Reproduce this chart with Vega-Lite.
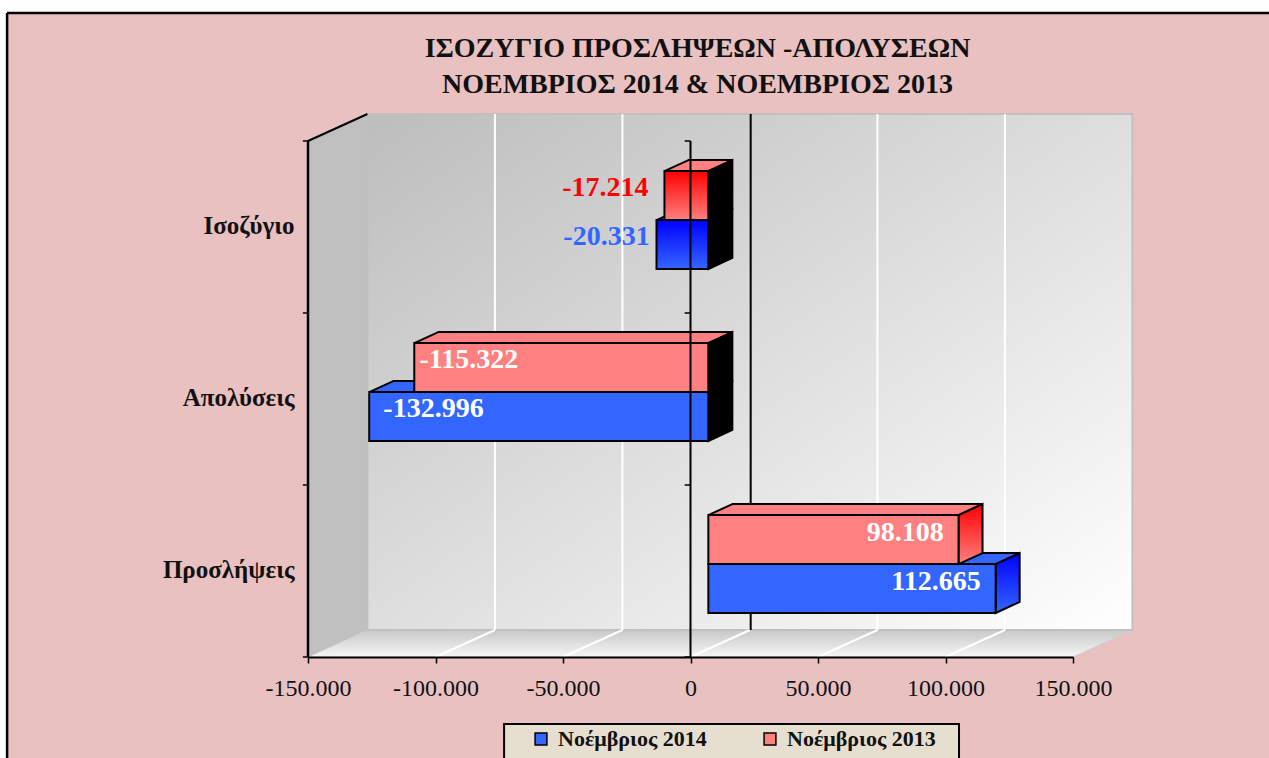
{
"$schema":"https://vega.github.io/schema/vega-lite/v6.json",
"width":765,"height":516,
"autosize":{"type":"none"},
"padding":{"left":308,"top":141,"right":196,"bottom":101},
"background":"#e9c1c1",
"config":{"view":{"stroke":null},"font":"Liberation Serif"},
"title":{"text":["ΙΣΟΖΥΓΙΟ ΠΡΟΣΛΗΨΕΩΝ -ΑΠΟΛΥΣΕΩΝ","ΝΟΕΜΒΡΙΟΣ 2014  &  ΝΟΕΜΒΡΙΟΣ 2013"],"font":"Liberation Serif","fontSize":28,"fontWeight":"bold","color":"#111111","anchor":"middle","dx":7,"offset":-99,"lineHeight":36},
"datasets":{
"one":[{"k":1}],
"sidewall":[{"x":-150000,"y":0,"y2":3},{"x":-126700,"y":0.157,"y2":3.157}],
"floor":[{"y":0,"x":-150000,"x2":150000},{"y":0.157,"x":-126700,"x2":173300}],
"grid":[{"v":-100000},{"v":-50000},{"v":0},{"v":50000},{"v":100000}],
"levels":[{"t":0},{"t":1},{"t":2},{"t":3}]
},
"data":{"values":[
{"category":"Προσλήψεις","series":"Νοέμβριος 2014","value":112665},
{"category":"Προσλήψεις","series":"Νοέμβριος 2013","value":98108},
{"category":"Απολύσεις","series":"Νοέμβριος 2014","value":-132996},
{"category":"Απολύσεις","series":"Νοέμβριος 2013","value":-115322},
{"category":"Ισοζύγιο","series":"Νοέμβριος 2014","value":-20331},
{"category":"Ισοζύγιο","series":"Νοέμβριος 2013","value":-17214}
]},
"transform":[
{"calculate":"datum.category==='Προσλήψεις'?0:datum.category==='Απολύσεις'?1:2","as":"idx"},
{"calculate":"datum.series==='Νοέμβριος 2014'","as":"isB"},
{"calculate":"datum.idx+(datum.isB?0.256:0.54)","as":"ylo"},
{"calculate":"datum.idx+(datum.isB?0.54:0.825)","as":"yhi"},
{"calculate":"(datum.ylo+datum.yhi)/2","as":"ymid"},
{"calculate":"replace(replace(format(datum.value,',d'),',','.'),'−','-')","as":"label"},
{"calculate":"[0,1]","as":"e"},
{"flatten":["e"]},
{"calculate":"7000+min(datum.value,0)","as":"x0"},
{"calculate":"7000+max(datum.value,0)","as":"x1"},
{"calculate":"datum.x0+datum.e*9412","as":"xa"},
{"calculate":"datum.x1+datum.e*9412","as":"xb"},
{"calculate":"datum.ylo+datum.e*0.064","as":"yb"},
{"calculate":"datum.yhi+datum.e*0.064","as":"yt"}
],
"layer":[
{"data":{"name":"one"},"mark":{"type":"rect","fill":"#ffffff"},
 "encoding":{"x":{"datum":-271000,"type":"quantitative","scale":{"domain":[-150000,150000],"nice":false,"zero":false},"title":null,"axis":{"title":null,"values":[-150000,-100000,-50000,0,50000,100000,150000],"labelExpr":"replace(replace(datum.label,',','.'),'−','-')","format":",d","grid":false,"domainColor":"#000000","domainWidth":2,"tickColor":"#000000","tickWidth":1.5,"tickSize":6,"labelPadding":13,"labelFont":"Liberation Serif","labelFontSize":24,"labelColor":"#111111","labelFlush":false,"labelOverlap":false,"zindex":1}},"x2":{"datum":-268000},
 "y":{"datum":-0.65,"type":"quantitative","scale":{"domain":[0,3],"nice":false,"zero":false},"title":null,"axis":{"title":null,"values":[0.5,1.5,2.5],"labelExpr":"datum.value===0.5?'Προσλήψεις':datum.value===1.5?'Απολύσεις':'Ισοζύγιο'","grid":false,"domain":false,"ticks":false,"labelPadding":14,"labelOffset":-2,"labelFont":"Liberation Serif","labelFontSize":25,"labelFontWeight":"bold","labelColor":"#111111","labelOverlap":false,"labelFlush":false,"zindex":1}},"y2":{"datum":3.82}}},
{"data":{"name":"one"},"mark":{"type":"rect","fill":"#ffffff"},
 "encoding":{"x":{"datum":-271000,"type":"quantitative","scale":{"domain":[-150000,150000],"nice":false,"zero":false}},"x2":{"datum":227000},"y":{"datum":3.744,"type":"quantitative","scale":{"domain":[0,3],"nice":false,"zero":false}},"y2":{"datum":3.82}}},
{"data":{"name":"one"},"mark":{"type":"rule","color":"#000000","strokeWidth":2.5},
 "encoding":{"x":{"datum":-268000,"type":"quantitative","scale":{"domain":[-150000,150000],"nice":false,"zero":false}},"y":{"datum":-0.65,"type":"quantitative","scale":{"domain":[0,3],"nice":false,"zero":false}},"y2":{"datum":3.744}}},
{"data":{"name":"one"},"mark":{"type":"rule","color":"#000000","strokeWidth":2.5},
 "encoding":{"x":{"datum":-268000,"type":"quantitative","scale":{"domain":[-150000,150000],"nice":false,"zero":false}},"x2":{"datum":227000},"y":{"datum":3.744,"type":"quantitative","scale":{"domain":[0,3],"nice":false,"zero":false}}}},
{"data":{"name":"one"},"mark":{"type":"rect","fill":"#e6dfcf","stroke":"#000000","strokeWidth":2},
 "encoding":{"x":{"datum":-73100,"type":"quantitative","scale":{"domain":[-150000,150000],"nice":false,"zero":false}},"x2":{"datum":105300},"y":{"datum":-0.65,"type":"quantitative","scale":{"domain":[0,3],"nice":false,"zero":false}},"y2":{"datum":-0.39}}},

{"data":{"name":"sidewall"},"mark":{"type":"area","fill":"#c0c0c0","stroke":"#a8a8a8","strokeWidth":1},
 "encoding":{"x":{"field":"x","type":"quantitative","scale":{"domain":[-150000,150000],"nice":false,"zero":false}},"y":{"field":"y","type":"quantitative","scale":{"domain":[0,3],"nice":false,"zero":false}},"y2":{"field":"y2"}}},
{"data":{"name":"floor"},"mark":{"type":"area","orient":"horizontal","stroke":"#d0d0d0","strokeWidth":1,"fill":{"gradient":"linear","x1":0,"y1":0,"x2":0,"y2":1,"stops":[{"offset":0,"color":"#c8c8c8"},{"offset":1,"color":"#f6f6f6"}]}},
 "encoding":{"y":{"field":"y","type":"quantitative","scale":{"domain":[0,3],"nice":false,"zero":false}},"x":{"field":"x","type":"quantitative","scale":{"domain":[-150000,150000],"nice":false,"zero":false}},"x2":{"field":"x2"}}},
{"data":{"name":"one"},"mark":{"type":"rect","stroke":"#c0c0c0","strokeWidth":2,"fill":{"gradient":"linear","x1":0,"y1":0,"x2":1,"y2":1,"stops":[{"offset":0,"color":"#bdbdbd"},{"offset":1,"color":"#ffffff"}]}},
 "encoding":{"x":{"datum":-126700,"type":"quantitative","scale":{"domain":[-150000,150000],"nice":false,"zero":false}},"x2":{"datum":173300},"y":{"datum":0.157,"type":"quantitative","scale":{"domain":[0,3],"nice":false,"zero":false}},"y2":{"datum":3.157}}},

{"data":{"name":"grid"},"transform":[{"calculate":"datum.v+23300","as":"vb"},{"filter":"datum.v!==0"}],"mark":{"type":"rule","color":"#ffffff","strokeWidth":2},
 "encoding":{"x":{"field":"vb","type":"quantitative","scale":{"domain":[-150000,150000],"nice":false,"zero":false}},"y":{"datum":0.157,"type":"quantitative","scale":{"domain":[0,3],"nice":false,"zero":false}},"y2":{"datum":3.157}}},
{"data":{"name":"grid"},"transform":[{"calculate":"datum.v+23300","as":"vb"}],"mark":{"type":"rule","color":"#ffffff","strokeWidth":2},
 "encoding":{"x":{"field":"v","type":"quantitative","scale":{"domain":[-150000,150000],"nice":false,"zero":false}},"x2":{"field":"vb"},"y":{"datum":0,"type":"quantitative","scale":{"domain":[0,3],"nice":false,"zero":false}},"y2":{"datum":0.157}}},
{"data":{"name":"one"},"mark":{"type":"rule","color":"#000000","strokeWidth":2},
 "encoding":{"x":{"datum":23600,"type":"quantitative","scale":{"domain":[-150000,150000],"nice":false,"zero":false}},"y":{"datum":0.157,"type":"quantitative","scale":{"domain":[0,3],"nice":false,"zero":false}},"y2":{"datum":3.157}}},
{"data":{"name":"one"},"mark":{"type":"rule","color":"#000000","strokeWidth":2},
 "encoding":{"x":{"datum":-150000,"type":"quantitative","scale":{"domain":[-150000,150000],"nice":false,"zero":false}},"x2":{"datum":-126700},"y":{"datum":3,"type":"quantitative","scale":{"domain":[0,3],"nice":false,"zero":false}},"y2":{"datum":3.157}}},

{"transform":[{"filter":"datum.isB"}],"mark":{"type":"area","orient":"horizontal","stroke":"#000000","strokeWidth":2},
 "encoding":{"y":{"field":"yt","type":"quantitative","scale":{"domain":[0,3],"nice":false,"zero":false}},"x":{"field":"xa","type":"quantitative","scale":{"domain":[-150000,150000],"nice":false,"zero":false}},"x2":{"field":"xb"},"detail":{"field":"category"},"fill":{"field":"series","type":"nominal","scale":{"domain":["Νοέμβριος 2014","Νοέμβριος 2013"],"range":["#3366ff","#ff8080"]},"legend":{"title":null,"orient":"none","legendX":222,"legendY":587,"direction":"horizontal","padding":0,"symbolType":"square","symbolSize":140,"symbolStrokeColor":"#000000","symbolStrokeWidth":1.5,"labelFont":"Liberation Serif","labelFontWeight":"bold","labelFontSize":22,"labelColor":"#111111","columnPadding":52,"labelOffset":6,"zindex":1}}}},
{"transform":[{"filter":"datum.isB && datum.value>0"}],"mark":{"type":"area","stroke":"#000000","strokeWidth":2,"fill":{"gradient":"linear","x1":0,"y1":0,"x2":0,"y2":1,"stops":[{"offset":0,"color":"#0000ff"},{"offset":1,"color":"#3366ff"}]}},
 "encoding":{"x":{"field":"xb","type":"quantitative","scale":{"domain":[-150000,150000],"nice":false,"zero":false}},"y":{"field":"yb","type":"quantitative","scale":{"domain":[0,3],"nice":false,"zero":false}},"y2":{"field":"yt"},"detail":{"field":"category"}}},
{"transform":[{"filter":"datum.isB && datum.value<0"}],"mark":{"type":"area","stroke":"#000000","strokeWidth":2,"fill":"#000000"},
 "encoding":{"x":{"field":"xb","type":"quantitative","scale":{"domain":[-150000,150000],"nice":false,"zero":false}},"y":{"field":"yb","type":"quantitative","scale":{"domain":[0,3],"nice":false,"zero":false}},"y2":{"field":"yt"},"detail":{"field":"category"}}},
{"transform":[{"filter":"datum.isB && datum.e===0 && datum.idx<2"}],"mark":{"type":"rect","fill":"#3366ff","stroke":"#000000","strokeWidth":2},
 "encoding":{"x":{"field":"x0","type":"quantitative","scale":{"domain":[-150000,150000],"nice":false,"zero":false}},"x2":{"field":"x1"},"y":{"field":"ylo","type":"quantitative","scale":{"domain":[0,3],"nice":false,"zero":false}},"y2":{"field":"yhi"}}},
{"transform":[{"filter":"datum.isB && datum.e===0 && datum.idx===2"}],"mark":{"type":"rect","stroke":"#000000","strokeWidth":2,"fill":{"gradient":"linear","x1":0,"y1":0,"x2":0,"y2":1,"stops":[{"offset":0,"color":"#0000ff"},{"offset":1,"color":"#3366ff"}]}},
 "encoding":{"x":{"field":"x0","type":"quantitative","scale":{"domain":[-150000,150000],"nice":false,"zero":false}},"x2":{"field":"x1"},"y":{"field":"ylo","type":"quantitative","scale":{"domain":[0,3],"nice":false,"zero":false}},"y2":{"field":"yhi"}}},

{"transform":[{"filter":"!datum.isB"}],"mark":{"type":"area","orient":"horizontal","stroke":"#000000","strokeWidth":2},
 "encoding":{"y":{"field":"yt","type":"quantitative","scale":{"domain":[0,3],"nice":false,"zero":false}},"x":{"field":"xa","type":"quantitative","scale":{"domain":[-150000,150000],"nice":false,"zero":false}},"x2":{"field":"xb"},"detail":{"field":"category"},"fill":{"field":"series","type":"nominal","scale":{"domain":["Νοέμβριος 2014","Νοέμβριος 2013"],"range":["#3366ff","#ff8080"]},"legend":{"title":null,"orient":"none","legendX":222,"legendY":587,"direction":"horizontal","padding":0,"symbolType":"square","symbolSize":140,"symbolStrokeColor":"#000000","symbolStrokeWidth":1.5,"labelFont":"Liberation Serif","labelFontWeight":"bold","labelFontSize":22,"labelColor":"#111111","columnPadding":52,"labelOffset":6,"zindex":1}}}},
{"transform":[{"filter":"!datum.isB && datum.value>0"}],"mark":{"type":"area","stroke":"#000000","strokeWidth":2,"fill":{"gradient":"linear","x1":0,"y1":0,"x2":0,"y2":1,"stops":[{"offset":0,"color":"#ff0000"},{"offset":1,"color":"#ff8080"}]}},
 "encoding":{"x":{"field":"xb","type":"quantitative","scale":{"domain":[-150000,150000],"nice":false,"zero":false}},"y":{"field":"yb","type":"quantitative","scale":{"domain":[0,3],"nice":false,"zero":false}},"y2":{"field":"yt"},"detail":{"field":"category"}}},
{"transform":[{"filter":"!datum.isB && datum.value<0"}],"mark":{"type":"area","stroke":"#000000","strokeWidth":2,"fill":"#000000"},
 "encoding":{"x":{"field":"xb","type":"quantitative","scale":{"domain":[-150000,150000],"nice":false,"zero":false}},"y":{"field":"yb","type":"quantitative","scale":{"domain":[0,3],"nice":false,"zero":false}},"y2":{"field":"yt"},"detail":{"field":"category"}}},
{"transform":[{"filter":"!datum.isB && datum.e===0 && datum.idx<2"}],"mark":{"type":"rect","fill":"#ff8080","stroke":"#000000","strokeWidth":2},
 "encoding":{"x":{"field":"x0","type":"quantitative","scale":{"domain":[-150000,150000],"nice":false,"zero":false}},"x2":{"field":"x1"},"y":{"field":"ylo","type":"quantitative","scale":{"domain":[0,3],"nice":false,"zero":false}},"y2":{"field":"yhi"}}},
{"transform":[{"filter":"!datum.isB && datum.e===0 && datum.idx===2"}],"mark":{"type":"rect","stroke":"#000000","strokeWidth":2,"fill":{"gradient":"linear","x1":0,"y1":0,"x2":0,"y2":1,"stops":[{"offset":0,"color":"#ff0000"},{"offset":1,"color":"#ff8080"}]}},
 "encoding":{"x":{"field":"x0","type":"quantitative","scale":{"domain":[-150000,150000],"nice":false,"zero":false}},"x2":{"field":"x1"},"y":{"field":"ylo","type":"quantitative","scale":{"domain":[0,3],"nice":false,"zero":false}},"y2":{"field":"yhi"}}},

{"data":{"name":"one"},"mark":{"type":"rule","color":"#000000","strokeWidth":2.5},
 "encoding":{"x":{"datum":-150000,"type":"quantitative","scale":{"domain":[-150000,150000],"nice":false,"zero":false}},"y":{"datum":0,"type":"quantitative","scale":{"domain":[0,3],"nice":false,"zero":false}},"y2":{"datum":3}}},
{"data":{"name":"one"},"mark":{"type":"rule","color":"#000000","strokeWidth":2},
 "encoding":{"x":{"datum":0,"type":"quantitative","scale":{"domain":[-150000,150000],"nice":false,"zero":false}},"y":{"datum":0,"type":"quantitative","scale":{"domain":[0,3],"nice":false,"zero":false}},"y2":{"datum":3}}},
{"data":{"name":"levels"},"mark":{"type":"rule","color":"#000000","strokeWidth":1.5},
 "encoding":{"x":{"datum":-2300,"type":"quantitative","scale":{"domain":[-150000,150000],"nice":false,"zero":false}},"x2":{"datum":0},"y":{"field":"t","type":"quantitative","scale":{"domain":[0,3],"nice":false,"zero":false}}}},
{"data":{"name":"levels"},"mark":{"type":"rule","color":"#000000","strokeWidth":1.5},
 "encoding":{"x":{"datum":-152000,"type":"quantitative","scale":{"domain":[-150000,150000],"nice":false,"zero":false}},"x2":{"datum":-150000},"y":{"field":"t","type":"quantitative","scale":{"domain":[0,3],"nice":false,"zero":false}}}},

{"transform":[{"filter":"datum.e===0 && datum.value>0"}],"mark":{"type":"text","align":"right","baseline":"middle","color":"#ffffff","fontWeight":"bold","fontSize":28,"xOffset":18,"dx":-15,"dy":-7},
 "encoding":{"x":{"field":"value","type":"quantitative","scale":{"domain":[-150000,150000],"nice":false,"zero":false}},"y":{"field":"ymid","type":"quantitative","scale":{"domain":[0,3],"nice":false,"zero":false}},"text":{"field":"label"}}},
{"transform":[{"filter":"datum.e===0 && datum.idx===1 && !datum.isB"}],"mark":{"type":"text","align":"left","baseline":"middle","color":"#ffffff","fontWeight":"bold","fontSize":28,"xOffset":18,"dx":5,"dy":-8},
 "encoding":{"x":{"field":"value","type":"quantitative","scale":{"domain":[-150000,150000],"nice":false,"zero":false}},"y":{"field":"ymid","type":"quantitative","scale":{"domain":[0,3],"nice":false,"zero":false}},"text":{"field":"label"}}},
{"transform":[{"filter":"datum.e===0 && datum.idx===1 && datum.isB"}],"mark":{"type":"text","align":"left","baseline":"middle","color":"#ffffff","fontWeight":"bold","fontSize":28,"xOffset":18,"dx":14,"dy":-8},
 "encoding":{"x":{"field":"value","type":"quantitative","scale":{"domain":[-150000,150000],"nice":false,"zero":false}},"y":{"field":"ymid","type":"quantitative","scale":{"domain":[0,3],"nice":false,"zero":false}},"text":{"field":"label"}}},
{"transform":[{"filter":"datum.e===0 && datum.idx===2 && !datum.isB"}],"mark":{"type":"text","align":"right","baseline":"middle","color":"#ff0000","fontWeight":"bold","fontSize":28,"xOffset":18,"dx":-16,"dy":-8},
 "encoding":{"x":{"field":"value","type":"quantitative","scale":{"domain":[-150000,150000],"nice":false,"zero":false}},"y":{"field":"ymid","type":"quantitative","scale":{"domain":[0,3],"nice":false,"zero":false}},"text":{"field":"label"}}},
{"transform":[{"filter":"datum.e===0 && datum.idx===2 && datum.isB"}],"mark":{"type":"text","align":"right","baseline":"middle","color":"#3366ff","fontWeight":"bold","fontSize":28,"xOffset":18,"dx":-7,"dy":-8},
 "encoding":{"x":{"field":"value","type":"quantitative","scale":{"domain":[-150000,150000],"nice":false,"zero":false}},"y":{"field":"ymid","type":"quantitative","scale":{"domain":[0,3],"nice":false,"zero":false}},"text":{"field":"label"}}}
]
}
